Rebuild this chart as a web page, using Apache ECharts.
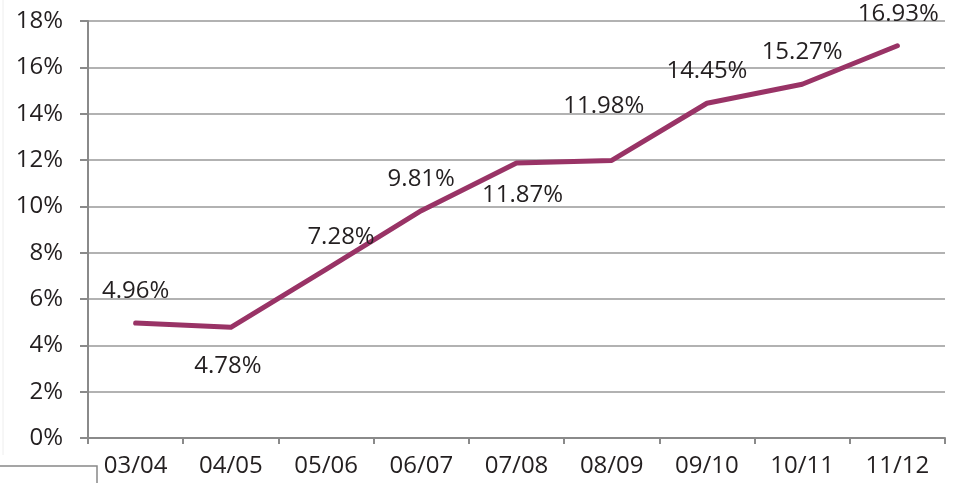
<!DOCTYPE html>
<html>
<head>
<meta charset="utf-8">
<script src="https://cdn.jsdelivr.net/npm/echarts@6/dist/echarts.min.js"></script>
<style>
  html, body { margin: 0; padding: 0; background: #fff; }
  #chart { width: 955px; height: 483px; }
</style>
</head>
<body>
<div id="chart"></div>
<script>
// 年度
var categories = ['03/04', '04/05', '05/06', '06/07', '07/08', '08/09', '09/10', '10/11', '11/12'];
// 占比 (%)
var values = [4.96, 4.78, 7.28, 9.81, 11.87, 11.98, 14.45, 15.27, 16.93];
// 标签位置
var labelPos = ['top', 'bottom', 'top', 'top', 'bottom', 'top', 'top', 'top', 'top'];
var labelOffset = [[0, 0], [-3, 7], [15, 0], [0, 0], [6, 0], [-8, -22], [0, 0], [0, 0], [1, 0]];

var textColor = '#231f20';
var chart = echarts.init(document.getElementById('chart'));

var seriesData = values.map(function (v, i) {
  return {
    value: v,
    label: { position: labelPos[i], offset: labelOffset[i] }
  };
});

chart.setOption({
  animation: false,
  grid: { left: 88, right: 10, top: 21, bottom: 45 },
  xAxis: {
    type: 'category',
    data: categories,
    boundaryGap: true,
    axisLine: { lineStyle: { color: '#8a8a8a', width: 2 } },
    axisTick: { show: true, length: 6, lineStyle: { color: '#8a8a8a', width: 2 } },
    axisLabel: { color: textColor, fontSize: 24, fontFamily: 'Open Sans', margin: 16 },
    splitLine: { show: false }
  },
  yAxis: {
    type: 'value',
    min: 0,
    max: 18,
    interval: 2,
    axisLine: { show: true, lineStyle: { color: '#8a8a8a', width: 2 } },
    axisTick: { show: true, length: 8, lineStyle: { color: '#8a8a8a', width: 2 } },
    axisLabel: {
      color: textColor, fontSize: 24, fontFamily: 'Open Sans', margin: 25,
      formatter: function (v) { return v + '%'; }
    },
    splitLine: { lineStyle: { color: '#999', width: 1.5 } }
  },
  series: [{
    type: 'line',
    data: seriesData,
    symbol: 'circle',
    symbolSize: 2,
    showSymbol: true,
    itemStyle: { color: '#993366' },
    lineStyle: { color: '#993366', width: 5, cap: 'round', join: 'round' },
    label: {
      show: true,
      distance: 19,
      color: textColor,
      fontSize: 24,
      fontFamily: 'Open Sans',
      formatter: function (p) { return p.value.toFixed(2) + '%'; }
    }
  }],
  graphic: [
    { type: 'polyline', shape: { points: [[0, 466], [97, 466], [97, 483]] }, style: { stroke: '#888', lineWidth: 1.5, fill: null } },
    { type: 'line', shape: { x1: 3, y1: 0, x2: 3, y2: 455 }, style: { stroke: '#eee', lineWidth: 1 } }
  ]
});
</script>
</body>
</html>
